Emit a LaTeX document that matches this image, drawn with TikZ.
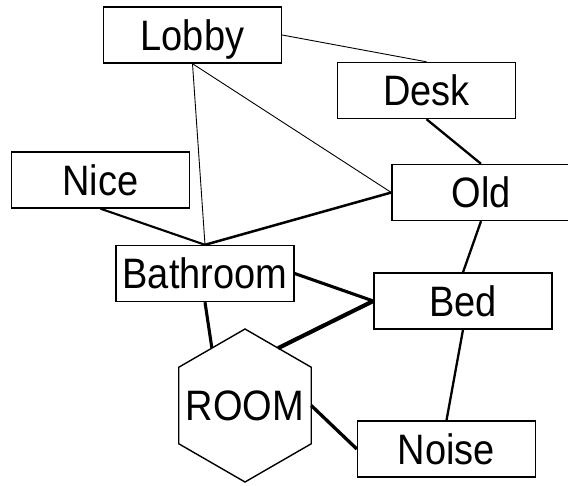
\documentclass[tikz,border=0pt]{standalone}
\usepackage{graphicx}
\usepackage{fontspec}
\setmainfont{Liberation Sans}
\usetikzlibrary{shapes.geometric}
\newcommand{\tallLabel}[1]{\scalebox{1}[1.12]{#1}}
\begin{document}
\begin{tikzpicture}[x=1pt,y=-1pt,
  labelfont/.style={font=\fontsize{38}{40}\selectfont, text height=30.5pt, text depth=0pt, inner sep=0pt},
  box/.style={draw, line width=1.4pt, minimum width=178pt, minimum height=56pt, labelfont},
  hexshape/.style={draw, line width=1.4pt, regular polygon, regular polygon sides=6, shape border rotate=30, minimum size=153pt, inner sep=0pt, outer sep=0pt},
  thinlink/.style={line width=0.9pt},
  link/.style={line width=#1}]
\useasboundingbox (0,0) rectangle (568,485);
\node[box] (lobby) at (192.5,35) {\tallLabel{Lobby}};
\node[box] (desk) at (426.5,90.5) {\tallLabel{Desk}};
\node[box] (nice) at (100.5,180) {\tallLabel{Nice}};
\node[box] (old) at (481,192.5) {\tallLabel{Old}};
\node[box] (bath) at (205,273.5) {\tallLabel{Bathroom}};
\node[box] (bed) at (463,301) {\tallLabel{Bed}};
\node[box] (noise) at (446.5,449) {\tallLabel{Noise}};
\node[hexshape] (room) at (245,405.5) {};
\node[labelfont] (roomtext) at (room.center) {\tallLabel{ROOM}};
\draw[thinlink] (lobby.east) -- (desk.north);
\draw[thinlink] (lobby.south) -- (bath.north);
\draw[thinlink] (lobby.south) -- (old.west);
\draw[link=2.3pt] (desk.south) -- (old.north);
\draw[link=2.1pt] (nice.south) -- (bath.north);
\draw[link=2.5pt] (old.west) -- (bath.north);
\draw[link=2.3pt] (old.south) -- (bed.north);
\draw[link=3.1pt] (bath.east) -- (bed.west);
\draw[link=3.1pt] (bath.south) -- (room.120);
\draw[link=4.1pt] (room.60) -- (bed.west);
\draw[link=3.3pt] (room.east) -- (noise.west);
\draw[link=2.3pt] (bed.south) -- (noise.north);
\end{tikzpicture}
\end{document}
